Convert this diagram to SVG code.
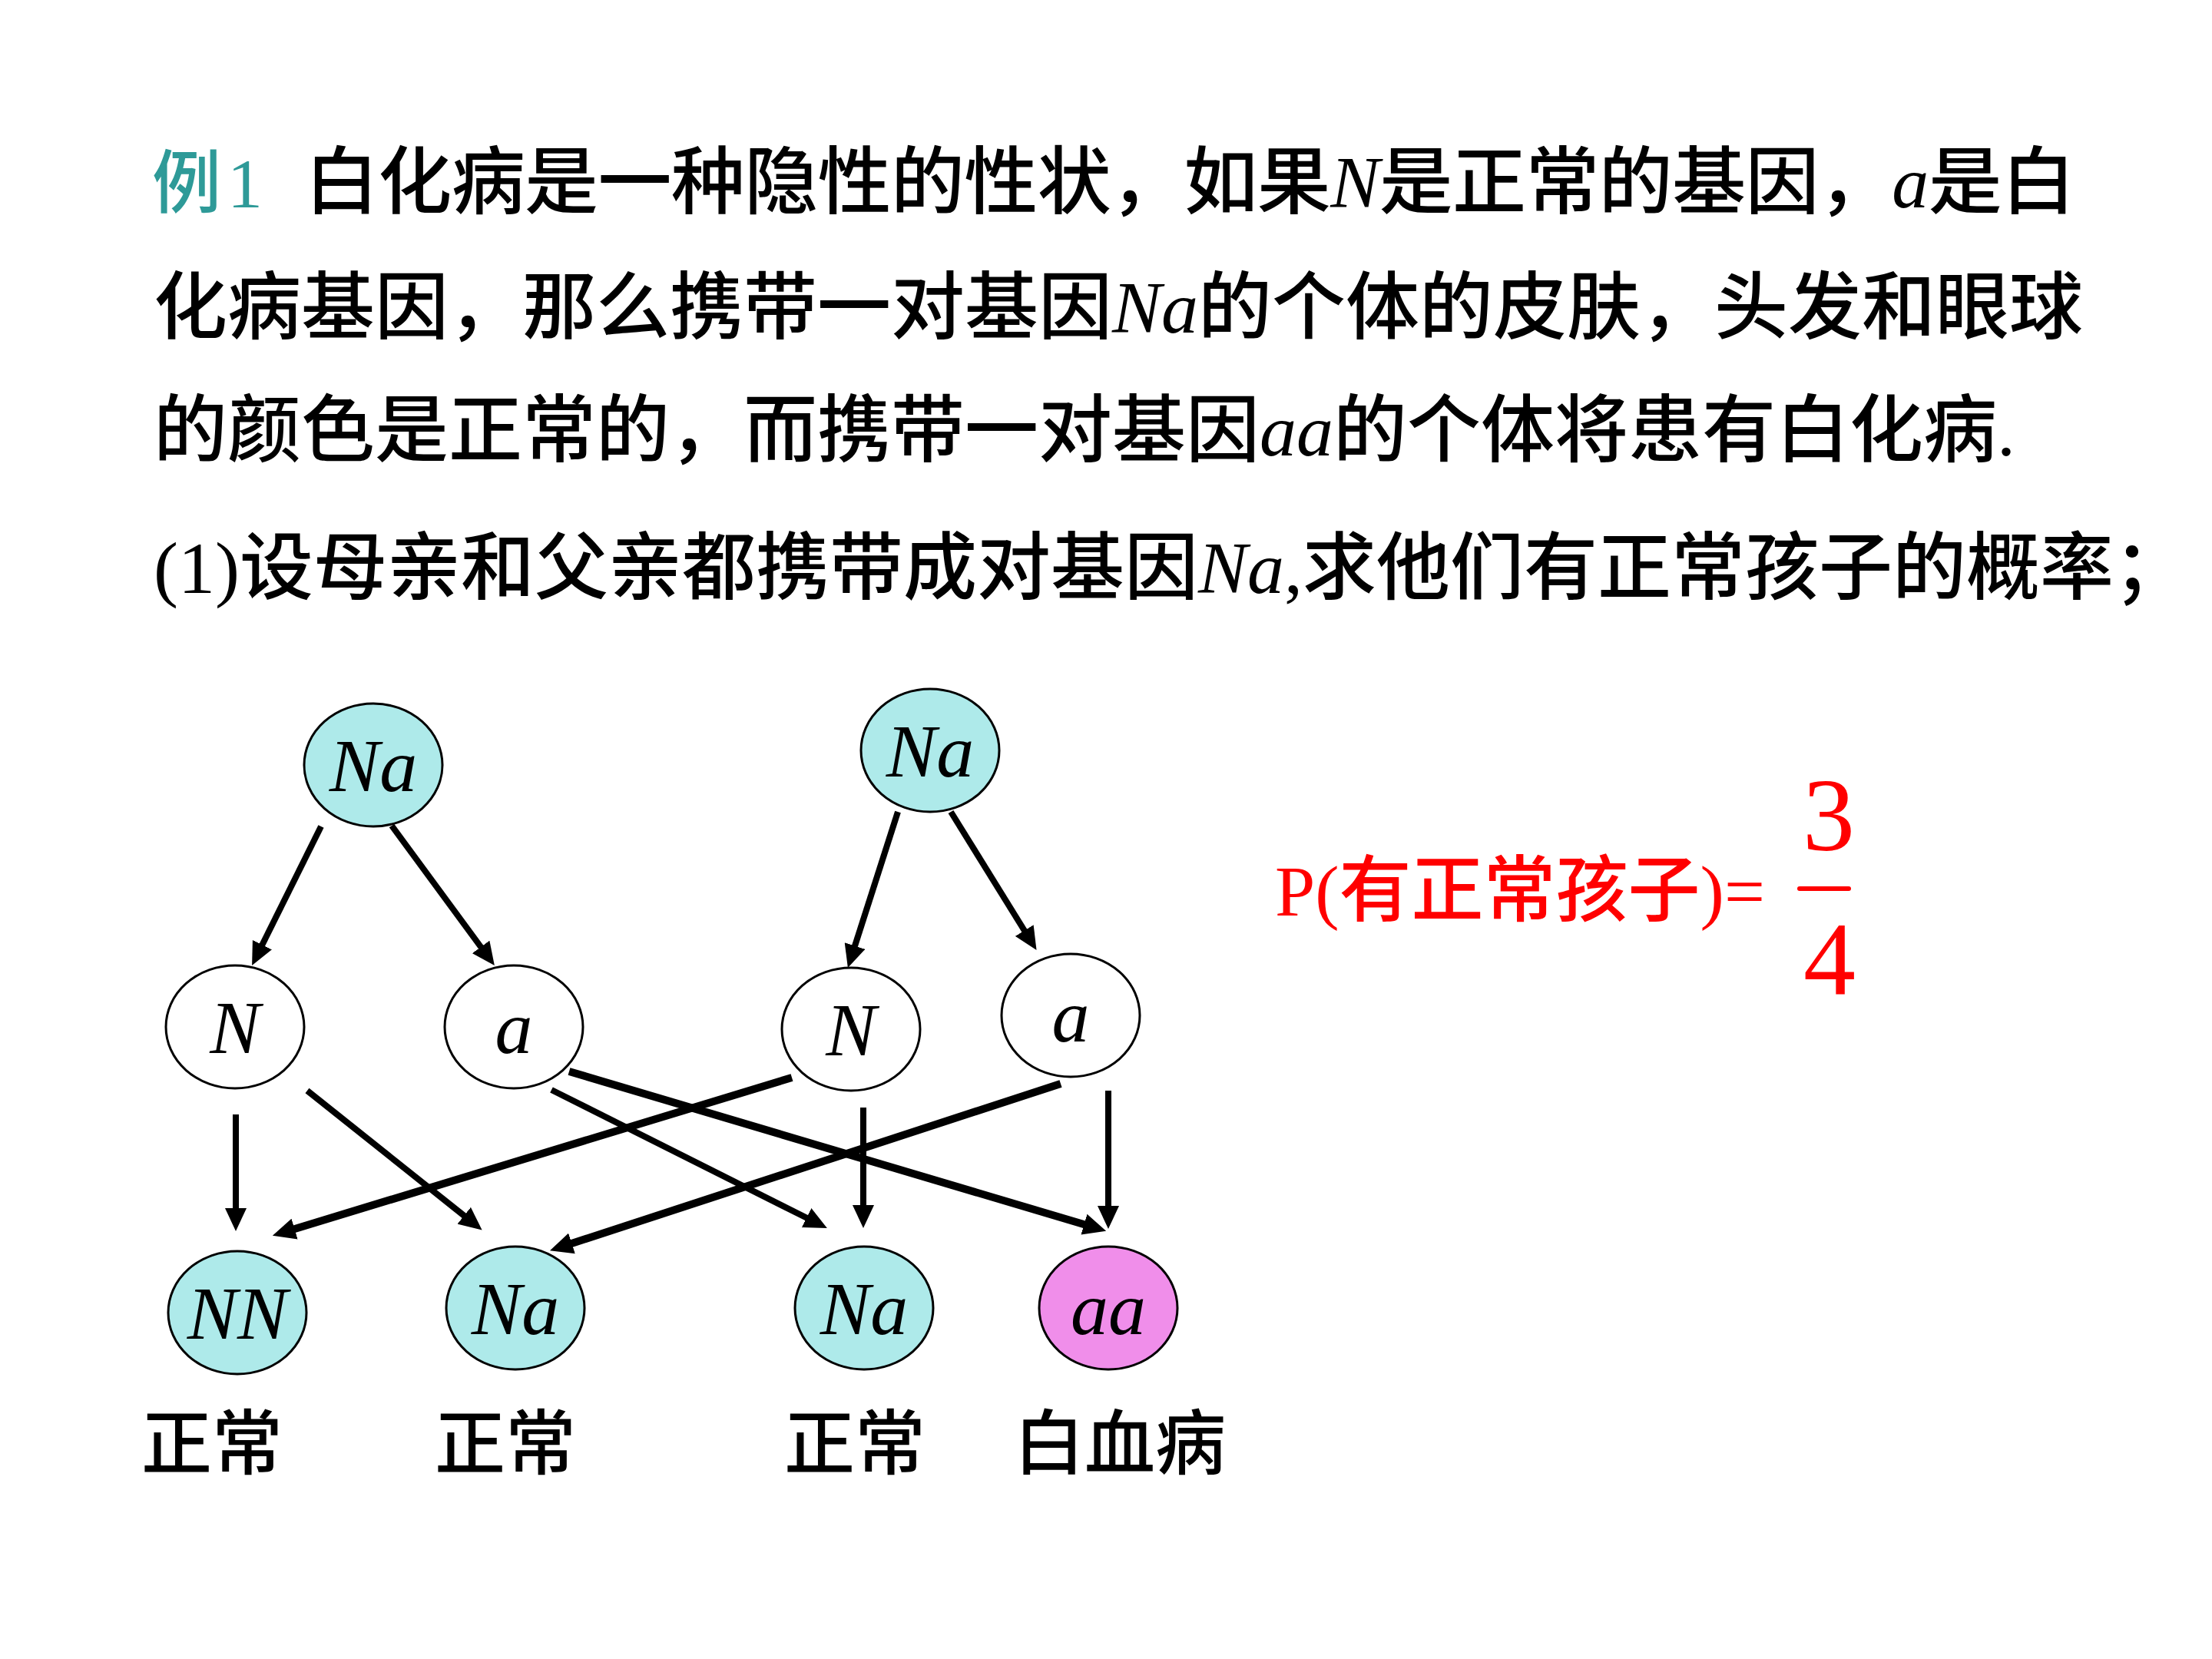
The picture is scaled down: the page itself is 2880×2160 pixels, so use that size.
<svg xmlns="http://www.w3.org/2000/svg" width="2880" height="2160" viewBox="0 0 2880 2160">
<defs>
<style>
.cjk{font-family:"Noto Sans CJK SC","Liberation Sans",sans-serif;font-size:96px;font-weight:500;fill:#000}
.it{font-family:"Liberation Serif",serif;font-style:italic;font-weight:normal}
.rm{font-family:"Liberation Serif",serif;font-weight:normal}
.lbl{font-family:"Liberation Serif",serif;font-style:italic;font-size:98px;fill:#000;text-anchor:middle}
.node{stroke:#000;stroke-width:3}
.cyan{fill:#AEEAEA}
.white{fill:#fff}
.pink{fill:#F08EEA}
.ar{stroke:#000;stroke-width:8;fill:none;marker-end:url(#ah)}
.thick{stroke-width:10}
.red{fill:#FF0000}
</style>
<marker id="ah" markerUnits="userSpaceOnUse" markerWidth="30" markerHeight="28" refX="10" refY="14" orient="auto" viewBox="0 0 30 28">
<path d="M0,0 L30,14 L0,28 Z" fill="#000"/>
</marker>
</defs>
<rect width="2880" height="2160" fill="#fff"/>

<g id="question">
<text x="198" y="270" class="cjk" style="fill:#2E9A98;font-size:90px">例<tspan class="rm" x="296" style="font-size:92px">1</tspan></text>
<text x="397" y="270" class="cjk" textLength="2305" lengthAdjust="spacing">白化病是一种隐性的性状，如果<tspan class="it">N</tspan>是正常的基因，<tspan class="it">a</tspan>是白</text>
<text x="200" y="433" class="cjk">化病基因，那么携带一对基因<tspan class="it">Na</tspan>的个体的皮肤，头发和眼球</text>
<text x="200" y="593" class="cjk">的颜色是正常的，而携带一对基因<tspan class="it">aa</tspan>的个体将患有白化病<tspan class="rm">.</tspan></text>
<text x="200" y="772" class="cjk"><tspan class="rm">(1)</tspan>设母亲和父亲都携带成对基因<tspan class="it">Na</tspan><tspan class="rm">,</tspan>求他们有正常孩子的概率；</text>
</g>

<g id="connectors">
<line class="ar" x1="418" y1="1076" x2="337" y2="1239"/>
<line class="ar" x1="510" y1="1075" x2="632" y2="1241"/>
<line class="ar" x1="1169" y1="1057" x2="1110" y2="1241"/>
<line class="ar" x1="1238" y1="1057" x2="1339" y2="1220"/>
<line class="ar" x1="307" y1="1451" x2="307" y2="1583"/>
<line class="ar" x1="400" y1="1420" x2="612" y2="1589"/>
<line class="ar thick" x1="741" y1="1395" x2="1421" y2="1597"/>
<line class="ar" x1="718" y1="1419" x2="1059" y2="1590"/>
<line class="ar thick" x1="1031" y1="1403" x2="374" y2="1603"/>
<line class="ar" x1="1124" y1="1442" x2="1124" y2="1579"/>
<line class="ar thick" x1="1381" y1="1411" x2="735" y2="1622"/>
<line class="ar" x1="1443" y1="1420" x2="1443" y2="1580"/>
</g>

<g id="parent1">
<ellipse class="node cyan" cx="486" cy="996" rx="90" ry="80"/>
<text class="lbl" x="486" y="1030">Na</text>
</g>
<g id="parent2">
<ellipse class="node cyan" cx="1211" cy="977" rx="90" ry="80"/>
<text class="lbl" x="1211" y="1011">Na</text>
</g>
<g id="gamete-N1">
<ellipse class="node white" cx="306" cy="1337" rx="90" ry="80"/>
<text class="lbl" x="306" y="1371">N</text>
</g>
<g id="gamete-a1">
<ellipse class="node white" cx="669" cy="1337" rx="90" ry="80"/>
<text class="lbl" x="669" y="1371">a</text>
</g>
<g id="gamete-N2">
<ellipse class="node white" cx="1108" cy="1340" rx="90" ry="80"/>
<text class="lbl" x="1108" y="1374">N</text>
</g>
<g id="gamete-a2">
<ellipse class="node white" cx="1394" cy="1322" rx="90" ry="80"/>
<text class="lbl" x="1394" y="1356">a</text>
</g>
<g id="child-NN">
<ellipse class="node cyan" cx="309" cy="1709" rx="90" ry="80"/>
<text class="lbl" x="309" y="1743">NN</text>
</g>
<g id="child-Na1">
<ellipse class="node cyan" cx="671" cy="1703" rx="90" ry="80"/>
<text class="lbl" x="671" y="1737">Na</text>
</g>
<g id="child-Na2">
<ellipse class="node cyan" cx="1125" cy="1703" rx="90" ry="80"/>
<text class="lbl" x="1125" y="1737">Na</text>
</g>
<g id="child-aa">
<ellipse class="node pink" cx="1443" cy="1703" rx="90" ry="80"/>
<text class="lbl" x="1443" y="1737">aa</text>
</g>

<g id="labels">
<text x="184" y="1912" class="cjk" style="font-size:92px">正常</text>
<text x="566" y="1912" class="cjk" style="font-size:92px">正常</text>
<text x="1021" y="1912" class="cjk" style="font-size:92px">正常</text>
<text x="1320" y="1912" class="cjk" style="font-size:92px">白血病</text>
</g>

<g id="probability">
<text x="1660" y="1192" class="cjk red" style="font-size:94px"><tspan class="rm">P(</tspan>有正常孩子<tspan class="rm">)=</tspan></text>
<text x="2381" y="1107" class="rm red" style="font-size:136px;text-anchor:middle">3</text>
<line x1="2343" y1="1157" x2="2407" y2="1157" stroke="#FF0000" stroke-width="6" stroke-linecap="round"/>
<text x="2382" y="1295" class="rm red" style="font-size:136px;text-anchor:middle">4</text>
</g>
</svg>
